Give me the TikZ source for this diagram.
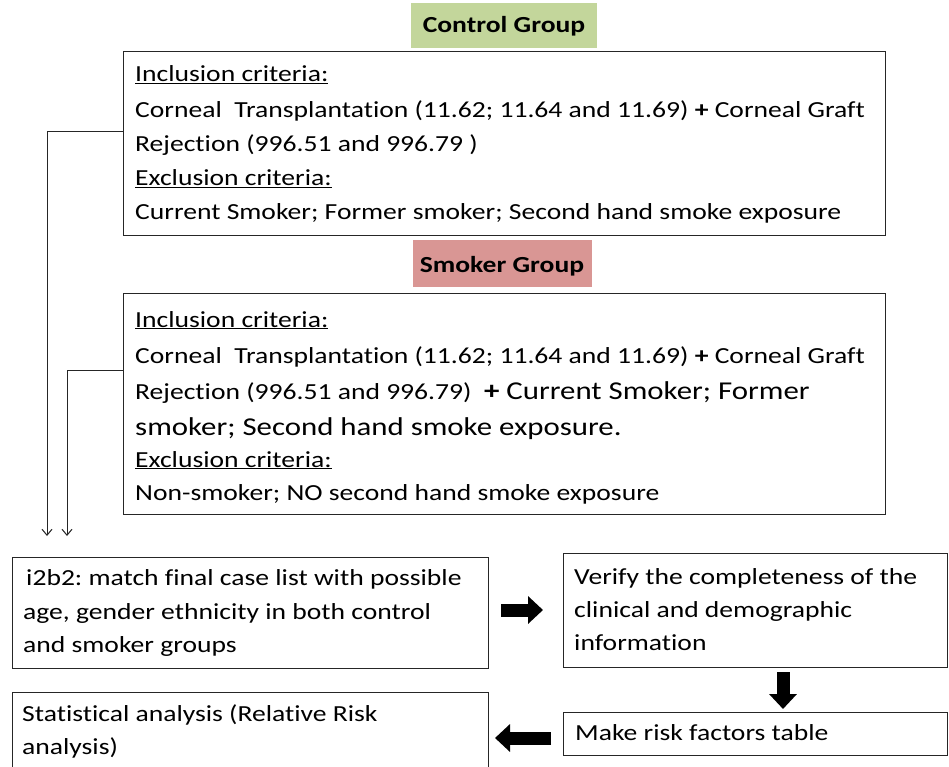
\documentclass[tikz,border=0pt]{standalone}
\usepackage{fontspec}
\setmainfont{Carlito}[FakeStretch=1.2,Ligatures=NoCommon]
\usetikzlibrary{arrows.meta}
\definecolor{grpgreen}{HTML}{C3D69B}
\definecolor{grpred}{HTML}{D99694}
\frenchspacing
\begin{document}
\begin{tikzpicture}[x=1pt,y=-1pt,
  box/.style={draw=black!85,line width=1.2pt,anchor=north west,inner sep=0pt},
  txt/.style={anchor=base west,inner sep=0pt,font=\fontsize{23}{27}\selectfont},
  big/.style={font=\fontsize{25.7}{30}\selectfont},
  grp/.style={anchor=north west,inner sep=0pt},
  grplbl/.style={anchor=base,inner sep=0pt,font=\fontsize{23}{27}\selectfont\bfseries},
  thin/.style={draw=black!85,line width=1pt,-{Straight Barb[length=6pt,width=10pt]}},
  fat/.style={line width=13pt,-{Triangle[length=15pt,width=27pt]}}]
\useasboundingbox (0,0) rectangle (949,767);
% group headers
\node[grp,fill=grpgreen,minimum width=186,minimum height=45] (cg) at (411,3) {};
\node[grplbl] (cgl) at (504,33) {Control Group};
\node[grp,fill=grpred,minimum width=179,minimum height=47] (sg) at (413,240) {};
\node[grplbl] (sgl) at (502,272) {Smoker Group};
% control box
\node[box,minimum width=762,minimum height=184] (ctrl) at (123,51) {};
\node[txt] (c1) at (135,82) {\underline{Inclusion criteria:}};
\node[txt] (c2) at (135,118) {Corneal\ \ Transplantation (11.62; 11.64 and 11.69) \textbf{+} Corneal Graft};
\node[txt] (c3) at (135,152) {Rejection (996.51 and 996.79 )};
\node[txt] (c4) at (135,186) {\underline{Exclusion criteria:}};
\node[txt] (c5) at (135,219) {Current Smoker; Former smoker; Second hand smoke exposure};
% smoker box
\node[box,minimum width=762,minimum height=221] (smk) at (123,293) {};
\node[txt] (s1) at (135,327) {\underline{Inclusion criteria:}};
\node[txt] (s2) at (135,363) {Corneal\ \ Transplantation (11.62; 11.64 and 11.69) \textbf{+} Corneal Graft};
\node[txt] (s3) at (135,399) {Rejection (996.51 and 996.79)\ \ {\fontsize{25.7}{30}\selectfont\textbf{+} Current Smoker; Former}};
\node[txt,big] (s4) at (135,435) {smoker; Second hand smoke exposure.};
\node[txt] (s5) at (135,467) {\underline{Exclusion criteria:}};
\node[txt] (s6) at (135,500) {Non-smoker; NO second hand smoke exposure};
% bottom boxes
\node[box,minimum width=476,minimum height=111] (i2b2) at (12,557) {};
\node[txt] (i1) at (26,585) {i2b2: match final case list with possible};
\node[txt] (i2) at (23,619) {age, gender ethnicity in both control};
\node[txt] (i3) at (23,652) {and smoker groups};
\node[box,minimum width=384,minimum height=114] (ver) at (563,553) {};
\node[txt] (v1) at (574,584) {Verify the completeness of the};
\node[txt] (v2) at (574,617) {clinical and demographic};
\node[txt] (v3) at (574,650) {information};
\node[box,minimum width=384,minimum height=43] (mk) at (563,712) {};
\node[txt] (m1) at (575,740) {Make risk factors table};
\node[box,minimum width=476,minimum height=80] (st) at (12,692) {};
\node[txt] (t1) at (22,721) {Statistical analysis (Relative Risk};
\node[txt] (t2) at (22,754) {analysis)};
% thin connectors
\coordinate (e1) at (47,536);
\coordinate (e2) at (67,536);
\draw[thin] ([yshift=12pt]ctrl.west) -| (e1);
\draw[thin] ([yshift=34pt]smk.west) -| (e2);
% fat arrows
\coordinate (a1s) at (501,610);
\coordinate (a1e) at (543,610);
\draw[fat] (a1s) -- (a1e);
\coordinate (a2s) at (783,672);
\coordinate (a2e) at (783,709);
\draw[fat] (a2s) -- (a2e);
\coordinate (a3s) at (551,738);
\coordinate (a3e) at (495,738);
\draw[fat] (a3s) -- (a3e);
\end{tikzpicture}
\end{document}
